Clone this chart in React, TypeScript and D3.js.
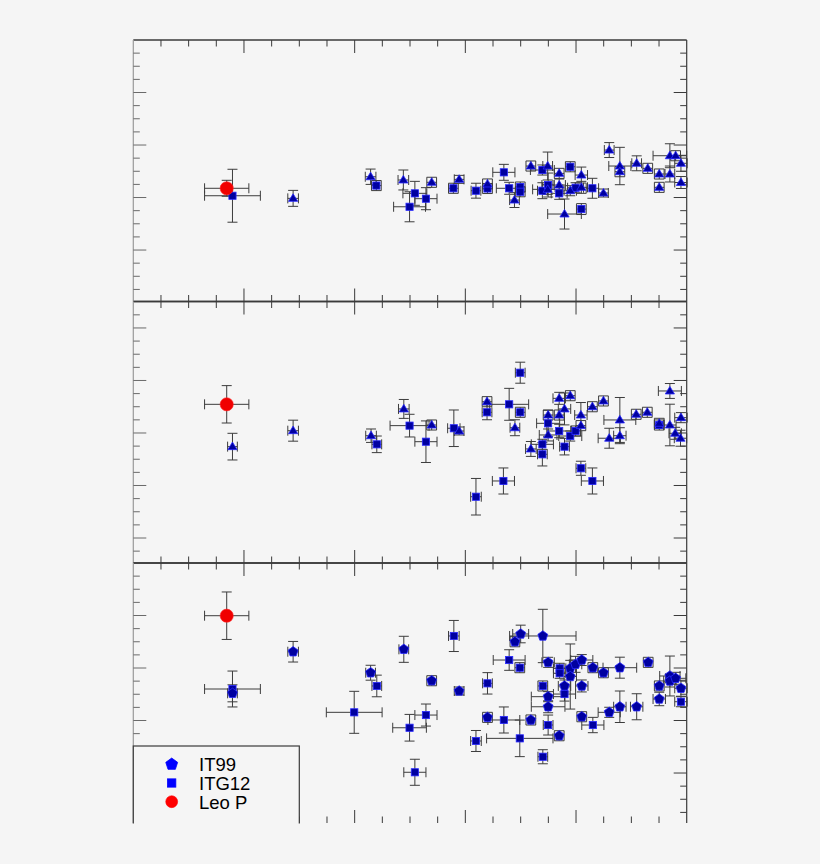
import React from "react";
import * as d3 from "d3";

// x: 12+log(O/H); each row: [x, y, xErr, yErr]
type Pt = [number, number, number, number];

const xDomain: [number, number] = [7.0, 8.25];
const xMinorStep = 0.0625;
const xMajorStep = 0.25;
const yMinorStep = 0.125;
const yMajorStep = 0.5;

// Panel 1 (top)
const leoP_1: Pt[] = [[7.211, -1.412, 0.05, 0.076]];
const it99_1: Pt[] = [
  [7.361, -1.508, 0.012, 0.076], [7.536, -1.302, 0.012, 0.073], [7.61, -1.333, 0.012, 0.095],
  [7.674, -1.355, 0.011, 0.048], [7.736, -1.327, 0.011, 0.038], [7.8, -1.371, 0.011, 0.048],
  [7.861, -1.524, 0.011, 0.071], [7.898, -1.2, 0.011, 0.048], [7.936, -1.2, 0.011, 0.133],
  [7.936, -1.422, 0.034, 0.048], [7.962, -1.27, 0.011, 0.048], [7.962, -1.381, 0.014, 0.057],
  [7.987, -1.435, 0.014, 0.048], [8.012, -1.286, 0.014, 0.076], [8.012, -1.403, 0.014, 0.057],
  [8.062, -1.457, 0.011, 0.038], [7.974, -1.657, 0.038, 0.143], [8.075, -1.048, 0.011, 0.071],
  [8.099, -1.2, 0.025, 0.178], [8.099, -1.254, 0.011, 0.048], [8.137, -1.174, 0.011, 0.071],
  [8.162, -1.222, 0.011, 0.048], [8.188, -1.276, 0.011, 0.048], [8.188, -1.403, 0.011, 0.048],
  [8.212, -1.102, 0.038, 0.114], [8.225, -1.102, 0.011, 0.048], [8.212, -1.276, 0.011, 0.076],
  [8.237, -1.174, 0.014, 0.076], [8.237, -1.357, 0.014, 0.057],
];
const itg12_1: Pt[] = [
  [7.224, -1.483, 0.063, 0.252], [7.549, -1.386, 0.011, 0.048], [7.624, -1.588, 0.036, 0.143],
  [7.636, -1.46, 0.027, 0.114], [7.661, -1.511, 0.025, 0.105], [7.723, -1.412, 0.011, 0.048],
  [7.774, -1.435, 0.011, 0.071], [7.8, -1.414, 0.011, 0.048], [7.837, -1.26, 0.025, 0.076],
  [7.849, -1.412, 0.029, 0.057], [7.874, -1.4, 0.011, 0.048], [7.874, -1.445, 0.011, 0.048],
  [7.924, -1.238, 0.027, 0.048], [7.924, -1.435, 0.011, 0.076], [7.937, -1.381, 0.014, 0.114],
  [7.962, -1.46, 0.018, 0.057], [7.987, -1.207, 0.011, 0.048], [7.999, -1.407, 0.018, 0.048],
  [8.012, -1.61, 0.011, 0.052], [8.037, -1.412, 0.014, 0.095],
];

// Panel 2 (middle)
const leoP_2: Pt[] = [[7.211, -0.727, 0.05, 0.178]];
const it99_2: Pt[] = [
  [7.224, -1.13, 0.011, 0.127], [7.361, -0.978, 0.012, 0.1], [7.537, -1.026, 0.012, 0.064],
  [7.611, -0.771, 0.012, 0.09], [7.674, -0.924, 0.011, 0.048], [7.736, -0.981, 0.011, 0.038],
  [7.799, -0.702, 0.011, 0.048], [7.862, -0.95, 0.011, 0.076], [7.898, -1.152, 0.012, 0.071],
  [7.937, -0.829, 0.011, 0.048], [7.937, -1.019, 0.02, 0.057], [7.962, -0.829, 0.011, 0.048],
  [7.962, -0.67, 0.014, 0.057], [7.987, -0.645, 0.011, 0.048], [7.974, -0.771, 0.014, 0.152],
  [8.011, -0.93, 0.011, 0.048], [8.011, -0.829, 0.014, 0.119], [8.037, -0.75, 0.011, 0.048],
  [8.062, -0.695, 0.011, 0.048], [8.075, -1.05, 0.025, 0.095], [8.099, -0.876, 0.036, 0.214],
  [8.099, -1.026, 0.014, 0.076], [8.136, -0.822, 0.011, 0.048], [8.161, -0.803, 0.011, 0.048],
  [8.188, -0.908, 0.011, 0.048], [8.212, -0.6, 0.026, 0.071], [8.212, -0.924, 0.014, 0.198],
  [8.224, -1.003, 0.014, 0.057], [8.236, -1.05, 0.014, 0.076], [8.237, -0.854, 0.014, 0.048],
];
const itg12_2: Pt[] = [
  [7.55, -1.108, 0.011, 0.079], [7.624, -0.93, 0.044, 0.108], [7.661, -1.083, 0.025, 0.198],
  [7.724, -0.955, 0.014, 0.174], [7.774, -1.607, 0.012, 0.174], [7.799, -0.803, 0.011, 0.071],
  [7.836, -1.457, 0.025, 0.124], [7.849, -0.727, 0.044, 0.152], [7.874, -0.426, 0.011, 0.1],
  [7.874, -0.803, 0.011, 0.048], [7.924, -1.108, 0.025, 0.048], [7.924, -1.203, 0.011, 0.111],
  [7.937, -0.908, 0.026, 0.124], [7.962, -0.981, 0.028, 0.064], [7.974, -1.13, 0.011, 0.079],
  [7.987, -1.029, 0.026, 0.048], [7.999, -0.981, 0.011, 0.048], [8.011, -1.336, 0.011, 0.067],
  [8.037, -1.457, 0.025, 0.124], [8.188, -0.924, 0.011, 0.048],
];

// Panel 3 (bottom)
const leoP_3: Pt[] = [[7.211, -0.502, 0.05, 0.226]];
const it99_3: Pt[] = [
  [7.224, -1.241, 0.011, 0.081], [7.361, -0.845, 0.012, 0.098], [7.536, -1.045, 0.011, 0.071],
  [7.611, -0.822, 0.011, 0.124], [7.674, -1.121, 0.011, 0.048], [7.736, -1.219, 0.011, 0.038],
  [7.8, -1.47, 0.011, 0.048], [7.862, -0.75, 0.011, 0.048], [7.875, -0.676, 0.018, 0.084],
  [7.925, -0.695, 0.075, 0.254], [7.937, -0.946, 0.014, 0.048], [7.937, -1.273, 0.038, 0.048],
  [7.937, -1.369, 0.038, 0.057], [7.898, -1.495, 0.011, 0.048], [7.962, -1.645, 0.011, 0.048],
  [7.987, -1.003, 0.014, 0.076], [7.987, -1.081, 0.014, 0.31], [7.974, -1.171, 0.014, 0.057],
  [7.999, -0.965, 0.014, 0.076], [8.013, -0.924, 0.025, 0.052], [8.013, -1.171, 0.014, 0.057],
  [8.013, -1.464, 0.011, 0.048], [8.038, -0.997, 0.011, 0.048], [8.062, -1.045, 0.011, 0.048],
  [8.075, -1.422, 0.025, 0.048], [8.099, -0.997, 0.038, 0.1], [8.099, -1.369, 0.014, 0.15],
  [8.137, -1.369, 0.014, 0.124], [8.163, -0.946, 0.011, 0.048], [8.188, -1.171, 0.011, 0.048],
  [8.188, -1.295, 0.014, 0.064], [8.212, -1.076, 0.023, 0.19], [8.212, -1.124, 0.014, 0.057],
  [8.225, -1.098, 0.023, 0.057], [8.237, -1.193, 0.014, 0.076],
];
const itg12_3: Pt[] = [
  [7.224, -1.2, 0.063, 0.171], [7.499, -1.422, 0.063, 0.2], [7.55, -1.171, 0.011, 0.103],
  [7.624, -1.569, 0.038, 0.127], [7.661, -1.448, 0.025, 0.105], [7.636, -1.993, 0.025, 0.124],
  [7.724, -0.695, 0.012, 0.148], [7.774, -1.695, 0.012, 0.1], [7.8, -1.146, 0.011, 0.102],
  [7.837, -1.495, 0.036, 0.124], [7.873, -1.67, 0.075, 0.174], [7.849, -0.924, 0.036, 0.098],
  [7.873, -0.997, 0.011, 0.048], [7.925, -1.171, 0.011, 0.048], [7.937, -1.543, 0.011, 0.095],
  [7.925, -1.845, 0.011, 0.067], [7.963, -1.003, 0.014, 0.048], [7.963, -1.05, 0.014, 0.048],
  [7.974, -1.248, 0.025, 0.067], [8.038, -1.543, 0.025, 0.073], [8.237, -1.321, 0.014, 0.048],
];

const legendLabels = ["IT99", "ITG12", "Leo P"];

type Shape = "tri" | "sq" | "pent" | "circ";
interface Panel {
  top: number;
  bottom: number;
  yDomain: [number, number];
  leo: Pt[];
  it99: Pt[];
  itg12: Pt[];
  it99Shape: Shape;
}

const panels: Panel[] = [
  { top: 40, bottom: 301.5, yDomain: [-2.49, 0], leo: leoP_1, it99: it99_1, itg12: itg12_1, it99Shape: "tri" },
  { top: 301.5, bottom: 563, yDomain: [-2.238, 0.252], leo: leoP_2, it99: it99_2, itg12: itg12_2, it99Shape: "tri" },
  { top: 563, bottom: 823, yDomain: [-2.476, 0], leo: leoP_3, it99: it99_3, itg12: itg12_3, it99Shape: "pent" },
];

const LEFT = 133.3;
const RIGHT = 686.7;
const BG = "#f5f5f5";
const AXIS = "#3a3a3a";
const ERR = "#3c3c3c";
const MFILL = "#0000a0";
const MSTROKE = "#2a2aff";

function pentPath(r: number) {
  const pts = d3.range(5).map((i) => {
    const a = -Math.PI / 2 + (i * 2 * Math.PI) / 5;
    return [r * Math.cos(a), r * Math.sin(a)];
  });
  return "M" + pts.map((p) => p[0].toFixed(2) + "," + p[1].toFixed(2)).join("L") + "Z";
}

function Marker({ shape, x, y, fill, stroke, size = 1 }: { shape: Shape; x: number; y: number; fill: string; stroke: string; size?: number }) {
  if (shape === "sq") {
    const h = 3.6 * size;
    return <rect x={x - h} y={y - h} width={2 * h} height={2 * h} fill={fill} stroke={stroke} strokeWidth={0.8} />;
  }
  if (shape === "tri") {
    const s = 4.6 * size;
    return (
      <path d={`M${x},${y - s}L${x + s},${y + s * 0.65}L${x - s},${y + s * 0.65}Z`} fill={fill} stroke={stroke} strokeWidth={0.8} />
    );
  }
  if (shape === "pent") {
    return <path transform={`translate(${x},${y})`} d={pentPath(5.2 * size)} fill={fill} stroke={stroke} strokeWidth={0.8} />;
  }
  return <circle cx={x} cy={y} r={6.6 * size} fill={fill} stroke={stroke} strokeWidth={0.6} />;
}

function ErrorBars({ pts, x, y }: { pts: Pt[]; x: d3.ScaleLinear<number, number>; y: d3.ScaleLinear<number, number> }) {
  const cap = 5;
  return (
    <g stroke={ERR} strokeWidth={1} fill="none">
      {pts.map((p, i) => {
        const cx = x(p[0]);
        const cy = y(p[1]);
        const x0 = x(p[0] - p[2]);
        const x1 = x(p[0] + p[2]);
        const y0 = y(p[1] + p[3]);
        const y1 = y(p[1] - p[3]);
        return (
          <g key={i}>
            <line x1={x0} x2={x1} y1={cy} y2={cy} />
            <line x1={x0} x2={x0} y1={cy - cap} y2={cy + cap} />
            <line x1={x1} x2={x1} y1={cy - cap} y2={cy + cap} />
            <line x1={cx} x2={cx} y1={y0} y2={y1} />
            <line x1={cx - cap} x2={cx + cap} y1={y0} y2={y0} />
            <line x1={cx - cap} x2={cx + cap} y1={y1} y2={y1} />
          </g>
        );
      })}
    </g>
  );
}

function isMultiple(v: number, step: number) {
  const r = v / step;
  return Math.abs(r - Math.round(r)) < 1e-6;
}

export default function App() {
  const x = d3.scaleLinear().domain(xDomain).range([LEFT, RIGHT]);
  const xTicks = d3
    .range(Math.round(xDomain[0] / xMinorStep), Math.round(xDomain[1] / xMinorStep) + 1)
    .map((k) => k * xMinorStep)
    .filter((v) => v > xDomain[0] + 1e-6 && v < xDomain[1] - 1e-6);

  return (
    <svg width={820} height={864} style={{ position: "absolute", left: 0, top: 0, display: "block" }}>
      <defs>
        <clipPath id="plotclip">
          <rect x={0} y={0} width={820} height={823.5} />
        </clipPath>
      </defs>
      <rect x={0} y={0} width={820} height={864} fill={BG} />
      <g clipPath="url(#plotclip)">
        {panels.map((pn, pi) => {
          const y = d3.scaleLinear().domain(pn.yDomain).range([pn.bottom, pn.top]);
          const yTicks = d3
            .range(Math.ceil(pn.yDomain[0] / yMinorStep), Math.floor(pn.yDomain[1] / yMinorStep) + 1)
            .map((k) => k * yMinorStep)
            .filter((v) => Math.abs(y(v) - pn.top) > 2 && Math.abs(y(v) - pn.bottom) > 2);
          return (
            <g key={pi}>
              {/* frame */}
              <line x1={LEFT} x2={RIGHT} y1={pn.top} y2={pn.top} stroke={AXIS} strokeWidth={1.3} />
              {pi === panels.length - 1 ? null : (
                <line x1={LEFT} x2={RIGHT} y1={pn.bottom} y2={pn.bottom} stroke={AXIS} strokeWidth={1.3} />
              )}
              <line x1={LEFT} x2={LEFT} y1={pn.top} y2={pn.bottom} stroke="#9a9a9a" strokeWidth={1.2} />
              <line x1={RIGHT} x2={RIGHT} y1={pn.top} y2={pn.bottom} stroke={AXIS} strokeWidth={1.2} />
              {/* x ticks */}
              <g stroke={AXIS} strokeWidth={1}>
                {xTicks.map((v, i) => {
                  const len = isMultiple(v, xMajorStep) ? 13 : 6.5;
                  return (
                    <g key={i}>
                      <line x1={x(v)} x2={x(v)} y1={pn.top} y2={pn.top + len} />
                      <line x1={x(v)} x2={x(v)} y1={pn.bottom} y2={pn.bottom - len} />
                    </g>
                  );
                })}
              </g>
              {/* y ticks */}
              <g stroke={AXIS} strokeWidth={1}>
                {yTicks.map((v, i) => {
                  const len = isMultiple(v, yMajorStep) ? 13 : 6.5;
                  return (
                    <g key={i}>
                      <line x1={LEFT} x2={LEFT + len} y1={y(v)} y2={y(v)} stroke="#6a6a6a" />
                      <line x1={RIGHT} x2={RIGHT - len} y1={y(v)} y2={y(v)} />
                    </g>
                  );
                })}
              </g>
              {/* error bars */}
              <ErrorBars pts={pn.itg12} x={x} y={y} />
              <ErrorBars pts={pn.it99} x={x} y={y} />
              <ErrorBars pts={pn.leo} x={x} y={y} />
              {/* markers */}
              {pn.itg12.map((p, i) => (
                <Marker key={"s" + i} shape="sq" x={x(p[0])} y={y(p[1])} fill={MFILL} stroke={MSTROKE} />
              ))}
              {pn.it99.map((p, i) => (
                <Marker key={"t" + i} shape={pn.it99Shape} x={x(p[0])} y={y(p[1])} fill={MFILL} stroke={MSTROKE} />
              ))}
              {pn.leo.map((p, i) => (
                <Marker key={"l" + i} shape="circ" x={x(p[0])} y={y(p[1])} fill="#f00000" stroke="#ff2a2a" />
              ))}
            </g>
          );
        })}
        {/* legend */}
        <g>
          <rect x={LEFT} y={746} width={166} height={100} fill={BG} stroke={AXIS} strokeWidth={1.2} />
          {legendLabels.map((lab, i) => {
            const ly = 764.3 + i * 18.7;
            const shape: Shape = i === 0 ? "pent" : i === 1 ? "sq" : "circ";
            const fill = i === 2 ? "#ff0000" : "#0000ff";
            return (
              <g key={lab}>
                <Marker shape={shape} x={171.7} y={ly} fill={fill} stroke={fill} size={i === 0 ? 1.2 : i === 1 ? 1.15 : 0.9} />
                <text x={199} y={ly + 7} fontFamily="'Liberation Sans', Arial, sans-serif" fontSize={18.5} fill="#000">
                  {lab}
                </text>
              </g>
            );
          })}
        </g>
      </g>
    </svg>
  );
}
